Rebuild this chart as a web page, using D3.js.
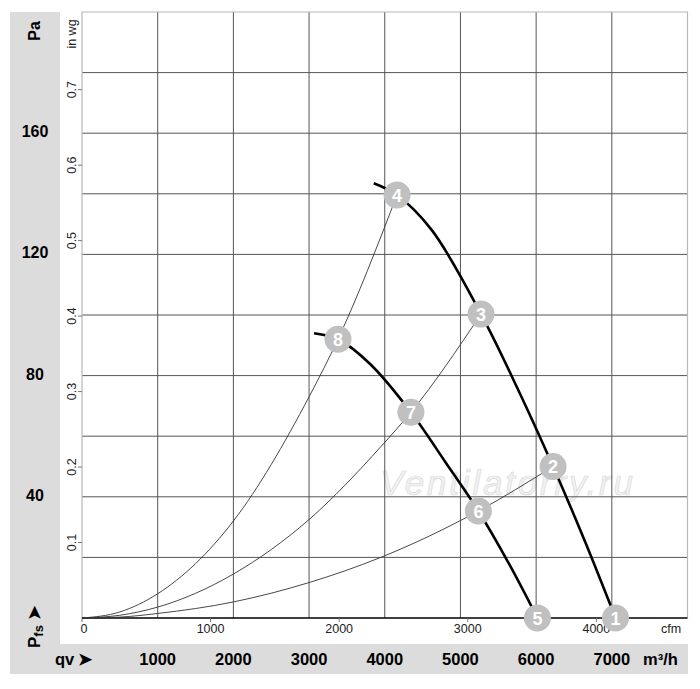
<!DOCTYPE html>
<html>
<head>
<meta charset="utf-8">
<script src="https://cdn.jsdelivr.net/npm/d3@7/dist/d3.min.js"></script>
<style>
  body { margin: 0; background: #fff; }
  svg text { font-family: "Liberation Sans", Arial, sans-serif; }
</style>
</head>
<body>
<div id="chart"></div>
<script>
// Fan curves (m³/h, Pa)
const fanHigh = [[3855, 143.5], [4162, 139.6], [4622, 128], [5272, 100.3], [5750, 76],
  [6224, 50], [6650, 25], [7049, 0]];
const fanLow = [[3066, 94], [3382, 92], [3800, 84], [4346, 67.9], [4800, 51.5],
  [5237, 35.3], [5650, 17.5], [6017, 0]];

// System curves through the operating points
const sysSteep = [[0, 0], [500, 2], [1000, 8], [2000, 32], [3000, 73], [3382, 92], [4162, 139.6]];
const sysMid = [[0, 0], [500, 0.9], [1000, 3.6], [2000, 14.5], [3000, 32.5], [3947, 56.5], [4346, 67.9], [5272, 100.3]];
const sysLow = [[0, 0], [500, 0.3], [1000, 1.5], [2000, 5.3], [3000, 11.7], [3947, 20], [5237, 35.3], [6224, 50]];

// Operating point markers
const markerLabels = ["1", "2", "3", "4", "5", "6", "7", "8"];
const markerFlow = [7049, 6224, 5272, 4162, 6017, 5237, 4346, 3382];
const markerPress = [0, 50, 100.3, 139.6, 0, 35.3, 67.9, 92];

// Axis ticks
const flowTicks = [1000, 2000, 3000, 4000, 5000, 6000, 7000];
const paGrid = [20, 40, 60, 80, 100, 120, 140, 160, 180];
const paLabels = [40, 80, 120, 160];
const inwgTicks = [0.1, 0.2, 0.3, 0.4, 0.5, 0.6, 0.7];
const cfmTicks = [0, 1000, 2000, 3000, 4000];

const width = 700;
const height = 689;
const PA_PER_INWG = 249.089;
const M3H_PER_CFM = 1.699;

const svg = d3.select("#chart").append("svg")
  .attr("width", width)
  .attr("height", height);

const x = d3.scaleLinear().domain([0, 8000]).range([82, 687.5]);
const y = d3.scaleLinear().domain([0, 200]).range([618, 12]);

// gray bands
svg.append("rect").attr("x", 10).attr("y", 12).attr("width", 50).attr("height", 633).attr("fill", "#dcdcdc");
svg.append("rect").attr("x", 10).attr("y", 644).attr("width", 678).attr("height", 30).attr("fill", "#dcdcdc");

// watermark
svg.append("text")
  .attr("x", 380).attr("y", 495)
  .attr("font-size", 35).attr("font-style", "italic")
  .attr("fill", "#f2f2f2").attr("stroke", "#dadada").attr("stroke-width", 0.7)
  .attr("textLength", 253)
  .text("Ventilatorry.ru");

// grid
svg.append("g").selectAll("line").data(flowTicks).join("line")
  .attr("x1", d => x(d)).attr("x2", d => x(d))
  .attr("y1", y(0)).attr("y2", y(200))
  .attr("stroke", "#555").attr("stroke-width", 1);
svg.append("g").selectAll("line").data(paGrid).join("line")
  .attr("x1", x(0)).attr("x2", x(8000))
  .attr("y1", d => y(d)).attr("y2", d => y(d))
  .attr("stroke", "#555").attr("stroke-width", 1);

// frame
svg.append("path")
  .attr("d", `M${x(0)},${y(0)}V${y(200)}H${x(8000)}V${y(0)}`)
  .attr("fill", "none").attr("stroke", "#b8b8b8").attr("stroke-width", 1.2);
svg.append("line")
  .attr("x1", x(0)).attr("x2", x(8000)).attr("y1", y(0)).attr("y2", y(0))
  .attr("stroke", "#000").attr("stroke-width", 1.5);

// in wg ticks (left)
const inwg = svg.append("g");
inwg.selectAll("line").data(inwgTicks).join("line")
  .attr("x1", x(0) - 4).attr("x2", x(0))
  .attr("y1", d => y(d * PA_PER_INWG)).attr("y2", d => y(d * PA_PER_INWG))
  .attr("stroke", "#777");
inwg.selectAll("text").data(inwgTicks).join("text")
  .attr("transform", d => `translate(76,${y(d * PA_PER_INWG)}) rotate(-90)`)
  .attr("text-anchor", "middle").attr("font-size", 12.5).attr("fill", "#222")
  .text(d => d.toFixed(1));
svg.append("text")
  .attr("transform", "translate(76,34) rotate(-90)")
  .attr("text-anchor", "middle").attr("font-size", 12.5).attr("fill", "#222")
  .text("in wg");

// Pa labels in the left band
svg.append("g").selectAll("text").data(paLabels).join("text")
  .attr("x", 35).attr("y", d => y(d) + 4)
  .attr("text-anchor", "middle").attr("font-size", 16).attr("font-weight", "bold")
  .text(d => d);
svg.append("text")
  .attr("transform", "translate(40,31) rotate(-90)")
  .attr("text-anchor", "middle").attr("font-size", 16).attr("font-weight", "bold")
  .text("Pa");
const pfs = svg.append("text")
  .attr("transform", "translate(40,648) rotate(-90)")
  .attr("font-size", 17).attr("font-weight", "bold");
pfs.append("tspan").text("P");
pfs.append("tspan").attr("font-size", 13).attr("dy", 3).text("fs");
pfs.append("tspan").attr("dy", -3).attr("dx", 5).text("➤");

// cfm axis (bottom)
const cfm = svg.append("g");
cfm.selectAll("line").data(cfmTicks).join("line")
  .attr("x1", d => x(d * M3H_PER_CFM)).attr("x2", d => x(d * M3H_PER_CFM))
  .attr("y1", y(0)).attr("y2", y(0) + 4)
  .attr("stroke", "#777");
cfm.selectAll("text").data(cfmTicks).join("text")
  .attr("x", d => x(d * M3H_PER_CFM) + (d === 0 ? 2 : 0)).attr("y", 633)
  .attr("text-anchor", "middle").attr("font-size", 12.5).attr("fill", "#222")
  .text(d => d);
svg.append("text").attr("x", 671).attr("y", 633)
  .attr("text-anchor", "middle").attr("font-size", 12.5).attr("fill", "#222")
  .text("cfm");

// m³/h labels in the bottom band
svg.append("g").selectAll("text").data(flowTicks).join("text")
  .attr("x", d => x(d)).attr("y", 665)
  .attr("text-anchor", "middle").attr("font-size", 16.5).attr("font-weight", "bold")
  .text(d => d);
svg.append("text").attr("x", 55).attr("y", 665)
  .attr("font-size", 16.5).attr("font-weight", "bold")
  .text("qv");
svg.append("text").attr("x", 78).attr("y", 665)
  .attr("font-size", 16.5).attr("font-weight", "bold")
  .text("➤");
svg.append("text").attr("x", 643).attr("y", 665)
  .attr("font-size", 16.5).attr("font-weight", "bold")
  .text("m³/h");

// curves
const sysLine = d3.line()
  .x(d => x(d[0]))
  .y(d => y(d[1]))
  .curve(d3.curveMonotoneX);
const fanLine = d3.line()
  .x(d => x(d[0]))
  .y(d => y(d[1]))
  .curve(d3.curveCatmullRom.alpha(0.5));

[sysSteep, sysMid, sysLow].forEach(s => {
  svg.append("path").attr("d", sysLine(s))
    .attr("fill", "none").attr("stroke", "#333").attr("stroke-width", 0.9);
});
[fanHigh, fanLow].forEach(s => {
  svg.append("path").attr("d", fanLine(s))
    .attr("fill", "none").attr("stroke", "#000").attr("stroke-width", 2.6);
});

// markers
const markers = svg.append("g").selectAll("g").data(markerLabels).join("g")
  .attr("transform", (d, i) => `translate(${x(markerFlow[i])},${y(markerPress[i])})`);
markers.append("circle").attr("r", 13.5).attr("fill", "#c0c0c0");
markers.append("text")
  .attr("text-anchor", "middle").attr("y", 6.5)
  .attr("font-size", 18).attr("font-weight", "bold").attr("fill", "#fff")
  .text(d => d);
</script>
</body>
</html>
